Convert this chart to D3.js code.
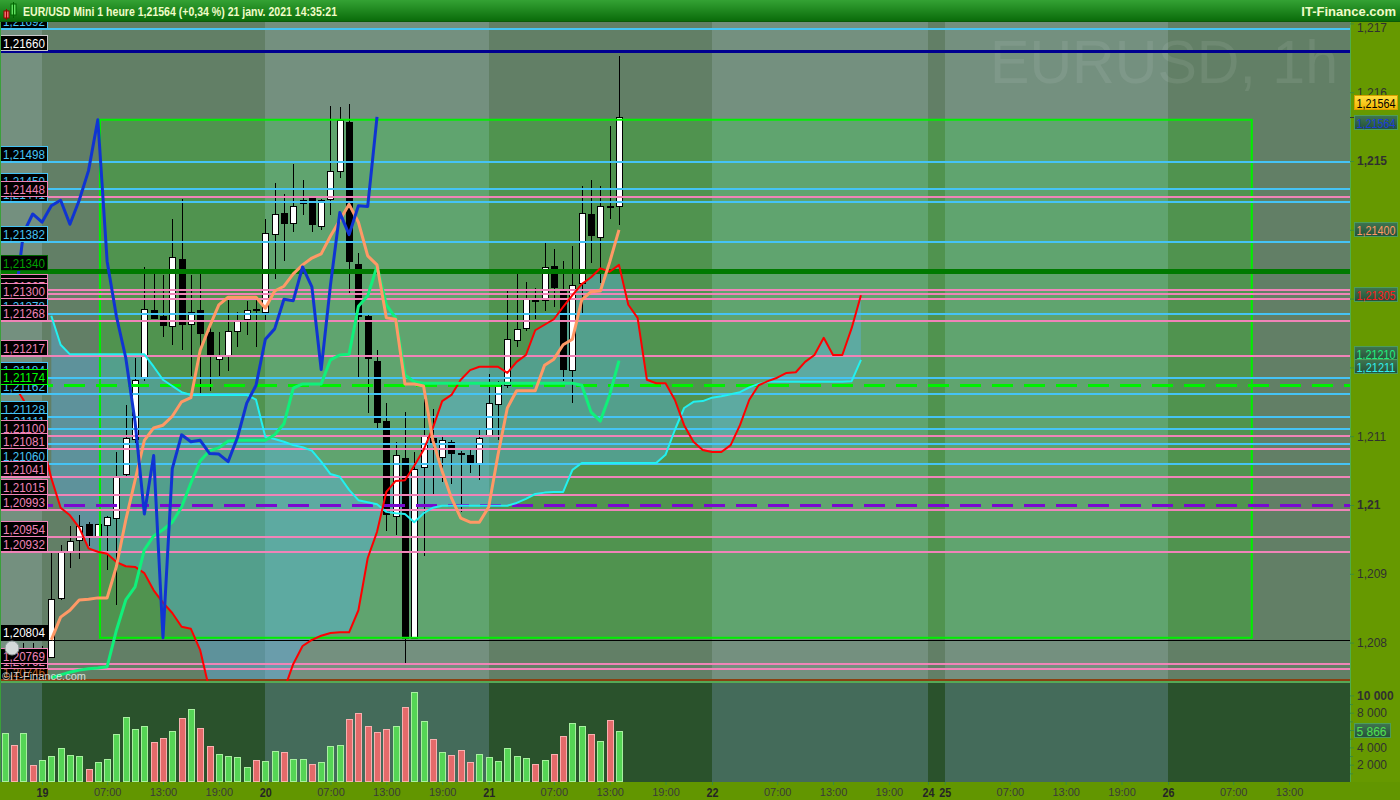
<!DOCTYPE html>
<html>
<head>
<meta charset="utf-8">
<script src="https://cdn.jsdelivr.net/npm/d3@7"></script>
<style>
  body { margin: 0; background: #2d7d2d; }
  svg { display: block; font-family: "Liberation Sans", Arial, sans-serif; }
</style>
</head>
<body>
<svg id="chart" width="1400" height="800"></svg>
<script>
// hourly bars, index 0 = 19 janv. 00:00
const firstBar = -4;
const opens = [1.20745, 1.20775, 1.20755, 1.20790, 1.20770,
  1.20779, 1.20865, 1.20934, 1.20950, 1.20973, 1.20955, 1.20971, 1.20982, 1.21044, 1.21095,
  1.21184, 1.21284, 1.21275, 1.21261, 1.21357, 1.21264, 1.21283, 1.21252, 1.21212, 1.21218,
  1.21253, 1.21270, 1.21285, 1.21280, 1.21394, 1.21425, 1.21410, 1.21438, 1.21446, 1.21405,
  1.21446, 1.21486, 1.21556, 1.21350, 1.21275, 1.21209, 1.21122, 1.20984, 1.21069, 1.20807,
  1.21055, 1.21098, 1.21070, 1.21091, 1.21075, 1.21073, 1.21060, 1.21101, 1.21147, 1.21174,
  1.21240, 1.21257, 1.21298, 1.21298, 1.21348, 1.21311, 1.21197, 1.21323, 1.21423, 1.21390,
  1.21435, 1.21434];
const highs = [1.20790, 1.20795, 1.20800, 1.20800, 1.20795,
  1.20930, 1.20942, 1.20970, 1.20986, 1.20976, 1.20973, 1.20984, 1.21077, 1.21145, 1.21214,
  1.21346, 1.21336, 1.21335, 1.21416, 1.21445, 1.21335, 1.21338, 1.21263, 1.21251, 1.21299,
  1.21280, 1.21296, 1.21304, 1.21416, 1.21468, 1.21452, 1.21496, 1.21472, 1.21448, 1.21445,
  1.21580, 1.21578, 1.21583, 1.21367, 1.21278, 1.21226, 1.21148, 1.21091, 1.21135, 1.21077,
  1.21154, 1.21139, 1.21101, 1.21095, 1.21078, 1.21081, 1.21110, 1.21190, 1.21180, 1.21311,
  1.21340, 1.21324, 1.21316, 1.21382, 1.21372, 1.21355, 1.21376, 1.21463, 1.21472, 1.21464,
  1.21551, 1.21652];
const lows = [1.20730, 1.20740, 1.20745, 1.20760, 1.20755,
  1.20777, 1.20862, 1.20908, 1.20922, 1.20941, 1.20953, 1.20906, 1.20855, 1.21039, 1.21087,
  1.21180, 1.21271, 1.21244, 1.21233, 1.21225, 1.21188, 1.21158, 1.21166, 1.21187, 1.21195,
  1.21230, 1.21247, 1.21230, 1.21269, 1.21329, 1.21354, 1.21397, 1.21422, 1.21397, 1.21400,
  1.21422, 1.21476, 1.21307, 1.21184, 1.21133, 1.21110, 1.20962, 1.20957, 1.20769, 1.20805,
  1.20926, 1.21014, 1.21034, 1.21031, 1.20990, 1.21046, 1.21037, 1.21100, 1.21095, 1.21170,
  1.21229, 1.21253, 1.21270, 1.21282, 1.21288, 1.21180, 1.21148, 1.21276, 1.21352, 1.21323,
  1.21415, 1.21407];
const closes = [1.20775, 1.20755, 1.20790, 1.20770, 1.20779,
  1.20863, 1.20932, 1.20948, 1.20970, 1.20957, 1.20972, 1.20982, 1.21041, 1.21097, 1.21181,
  1.21285, 1.21273, 1.21262, 1.21361, 1.21263, 1.21281, 1.21250, 1.21217, 1.21218, 1.21253,
  1.21268, 1.21283, 1.21284, 1.21395, 1.21423, 1.21411, 1.21435, 1.21443, 1.21408, 1.21443,
  1.21486, 1.21560, 1.21354, 1.21274, 1.21214, 1.21121, 1.20987, 1.21072, 1.20807, 1.21053,
  1.21102, 1.21092, 1.21094, 1.21075, 1.21074, 1.21063, 1.21098, 1.21148, 1.21174, 1.21241,
  1.21256, 1.21299, 1.21297, 1.21346, 1.21317, 1.21197, 1.21320, 1.21425, 1.21393, 1.21435,
  1.21434, 1.21564];
const volumes = [5660, 4270, 5660, 1925, 2540, 3000, 3930, 3120, 3000, 1500,
  2310, 2660, 5540, 7510, 6120, 6470, 4620, 5080, 5890, 7390,
  8430, 6240, 4160, 3230, 3000, 2890, 1730, 2540, 2430, 3580,
  3470, 2660, 2660, 2080, 2310, 4160, 4270, 7280, 7970, 6470,
  5780, 6120, 6470, 8660, 10400, 7050, 4970, 3470, 3120, 3700,
  2310, 3230, 2890, 2430, 3930, 3000, 2770, 2080, 2540, 3230,
  5310, 6810, 6470, 5540, 4740, 7160, 5866];

// Ichimoku lines
const tenkanStart = 1;
const tenkan = [1.20804, 1.20837, 1.20847, 1.20862, 1.20863, 1.20865, 1.20865, 1.20911, 1.20978, 1.21036,
  1.21094, 1.21112, 1.21116, 1.21129, 1.21150, 1.21156, 1.21225, 1.21259, 1.21291, 1.21302,
  1.21302, 1.21302, 1.21302, 1.21286, 1.21311, 1.21318, 1.21336, 1.21349, 1.21359, 1.21365,
  1.21391, 1.21414, 1.21437, 1.21411, 1.21362, 1.21349, 1.21272, 1.21270, 1.21176, 1.21176,
  1.21173, 1.21094, 1.21049, 1.21010, 1.20981, 1.20975, 1.20975, 1.20997, 1.21073, 1.21141,
  1.21166, 1.21166, 1.21166, 1.21203, 1.21212, 1.21233, 1.21241, 1.21298, 1.21310, 1.21311,
  1.21353, 1.21400];
const kijunStart = 1;
const kijun = [1.20749, 1.20753, 1.20757, 1.20760, 1.20762, 1.20763, 1.20765, 1.20818, 1.20862, 1.20881,
  1.20935, 1.20955, 1.20964, 1.20975, 1.20997, 1.21032, 1.21064, 1.21079, 1.21083, 1.21093,
  1.21094, 1.21094, 1.21094, 1.21094, 1.21102, 1.21118, 1.21170, 1.21176, 1.21176, 1.21176,
  1.21211, 1.21218, 1.21219, 1.21289, 1.21304, 1.21347, 1.21291, 1.21272, 1.21189, 1.21179,
  1.21177, 1.21177, 1.21177, 1.21177, 1.21177, 1.21177, 1.21177, 1.21177, 1.21177, 1.21177,
  1.21177, 1.21177, 1.21177, 1.21177, 1.21177, 1.21177, 1.21177, 1.21174, 1.21135, 1.21122,
  1.21160, 1.21210];
const senkouAStart = -4;
const senkouA = [1.21203, 1.21174, 1.21153, 1.21124, 1.21094,
  1.21039, 1.20996, 1.20985, 1.20967, 1.20937, 1.20932, 1.20929, 1.20917, 1.20911, 1.20910,
  1.20901, 1.20876, 1.20858, 1.20843, 1.20823, 1.20820, 1.20789, 1.20731, 1.20709, 1.20695,
  1.20688, 1.20688, 1.20690, 1.20699, 1.20709, 1.20731, 1.20769, 1.20795, 1.20804, 1.20810,
  1.20814, 1.20815, 1.20815, 1.20847, 1.20923, 1.20961, 1.21019, 1.21035, 1.21036, 1.21057,
  1.21080, 1.21112, 1.21151, 1.21160, 1.21182, 1.21196, 1.21201, 1.21201, 1.21201, 1.21192,
  1.21208, 1.21218, 1.21254, 1.21262, 1.21270, 1.21288, 1.21305, 1.21321, 1.21331, 1.21344,
  1.21339, 1.21349, 1.21291, 1.21272, 1.21182, 1.21177, 1.21177, 1.21153, 1.21116, 1.21092,
  1.21080, 1.21077, 1.21077, 1.21087, 1.21116, 1.21153, 1.21174, 1.21180, 1.21185, 1.21192,
  1.21193, 1.21208, 1.21218, 1.21243, 1.21218, 1.21218, 1.21257, 1.21305];
const senkouBStart = 1;
const senkouB = [1.21275, 1.21233, 1.21219, 1.21219, 1.21219, 1.21219, 1.21219, 1.21219, 1.21219, 1.21219,
  1.21219, 1.21201, 1.21182, 1.21173, 1.21164, 1.21160, 1.21160, 1.21160, 1.21160, 1.21160,
  1.21160, 1.21160, 1.21153, 1.21099, 1.21096, 1.21092, 1.21087, 1.21084, 1.21079, 1.21063,
  1.21045, 1.21041, 1.21022, 1.21007, 1.21004, 1.21001, 1.20990, 1.20988, 1.20987, 1.20975,
  1.20988, 1.20996, 1.20999, 1.20999, 1.20999, 1.20999, 1.20999, 1.20999, 1.20999, 1.20999,
  1.21003, 1.21009, 1.21016, 1.21018, 1.21019, 1.21019, 1.21051, 1.21061, 1.21061, 1.21061,
  1.21061, 1.21061, 1.21061, 1.21061, 1.21061, 1.21061, 1.21073, 1.21109, 1.21141, 1.21150,
  1.21151, 1.21156, 1.21158, 1.21161, 1.21164, 1.21171, 1.21176, 1.21179, 1.21179, 1.21179,
  1.21179, 1.21179, 1.21179, 1.21179, 1.21179, 1.21179, 1.21180, 1.21211];
const chikouStart = -4;
const chikou = [1.21283, 1.21284, 1.21395, 1.21423, 1.21411, 1.21435, 1.21443, 1.21408, 1.21443, 1.21486,
  1.21560, 1.21354, 1.21274, 1.21214, 1.21121, 1.20987, 1.21072, 1.20807, 1.21053, 1.21102,
  1.21092, 1.21094, 1.21075, 1.21074, 1.21063, 1.21098, 1.21148, 1.21174, 1.21241, 1.21256,
  1.21299, 1.21297, 1.21346, 1.21317, 1.21197, 1.21320, 1.21425, 1.21393, 1.21435, 1.21434,
  1.21564];

// horizontal levels drawn across the chart
const levelValues = [1.21692, 1.21498, 1.21459, 1.21441, 1.21382, 1.21278, 1.21184, 1.21162, 1.21128, 1.21111, 1.21089, 1.21060,
  1.21660, 1.21448, 1.21340, 1.21313, 1.21307, 1.21300, 1.21268, 1.21217, 1.21174, 1.21100, 1.21081,
  1.21041, 1.21015, 1.21000, 1.20993, 1.20954, 1.20932, 1.20804, 1.20746, 1.20762, 1.20769];
const levelKinds = ['blue', 'blue', 'blue', 'blue', 'blue', 'blue', 'blue', 'blue', 'blue', 'blue', 'blue', 'blue',
  'navy', 'pink', 'green', 'pink', 'pink', 'pink', 'pink', 'pink', 'greenDash', 'pink', 'pink',
  'pink', 'pink', 'purpleDash', 'pink', 'pink', 'pink', 'black', 'brown', 'pink', 'pink'];

// rectangle drawn on the chart (time index / price)
const boxFrom = 6.23, boxTo = 130, boxHigh = 1.2156, boxLow = 1.20807;

const sessionStarts = [0, 24, 48, 72, 95.2, 97, 121];
const timeTickIdx = [0, 7, 13, 19, 24, 31, 37, 43, 48, 55, 61, 67, 72, 79, 85, 91, 95.2, 97, 104, 110, 116, 121, 128, 134];
const timeTickText = ['19', '07:00', '13:00', '19:00', '20', '07:00', '13:00', '19:00', '21', '07:00', '13:00', '19:00',
  '22', '07:00', '13:00', '19:00', '24', '25', '07:00', '13:00', '19:00', '26', '07:00', '13:00'];
const priceTicks = [1.208, 1.209, 1.210, 1.211, 1.212, 1.213, 1.214, 1.215, 1.216, 1.217];
const volumeTicks = [2000, 4000, 6000, 8000, 10000];

const titleText = 'EUR/USD Mini 1 heure 1,21564 (+0,34 %) 21 janv. 2021 14:35:21';

const plotRight = 1350;
const priceTop = 22, priceBottom = 681, volTop = 683, volBottom = 782;

const x = d3.scaleLinear().domain([-4.513, 140.55]).range([0, plotRight]);
const y = d3.scaleLinear().domain([1.208, 1.217]).range([642.6, 23.4]);
const yv = d3.scaleLinear().domain([0, 10000]).range([782, 695.4]);

const fmtPrice = v => v.toFixed(5).replace('.', ',');
const fmtTick = v => (+v.toFixed(3)).toString().replace('.', ',');
const fmtVol = v => d3.format(',')(v).replace(/,/g, ' ');

const levelStyle = {
  blue: { stroke: '#45c3f5', width: 2, text: '#45c3f5', border: '#45c3f5' },
  pink: { stroke: '#f084b8', width: 2, text: '#f084b8', border: '#f084b8' },
  navy: { stroke: '#000090', width: 3, text: '#ffffff', border: '#c8c8c8' },
  green: { stroke: '#007a00', width: 5, text: '#00a000', border: '#006400' },
  greenDash: { stroke: '#00f000', width: 3, dash: '21,11', text: '#00ff00', border: '#00ff00' },
  purpleDash: { stroke: '#7a0ad0', width: 3, dash: '21,11' },
  black: { stroke: '#000000', width: 1, text: '#ffffff', border: null },
  brown: { stroke: '#8a4010', width: 2, text: '#c06020', border: '#8a4010' }
};

const svg = d3.select('#chart');
const defs = svg.append('defs');

defs.append('clipPath').attr('id', 'priceClip')
  .append('rect').attr('x', 0).attr('y', priceTop).attr('width', plotRight).attr('height', priceBottom - priceTop);
defs.append('clipPath').attr('id', 'boxClip')
  .append('rect')
  .attr('x', x(boxFrom)).attr('y', y(boxHigh))
  .attr('width', x(boxTo) - x(boxFrom)).attr('height', y(boxLow) - y(boxHigh));

const hdr = defs.append('linearGradient').attr('id', 'hdrGrad').attr('x1', 0).attr('x2', 0).attr('y1', 0).attr('y2', 1);
hdr.append('stop').attr('offset', '0%').attr('stop-color', '#34a234');
hdr.append('stop').attr('offset', '100%').attr('stop-color', '#0a6c0a');
const tagGrad = defs.append('linearGradient').attr('id', 'tagGrad').attr('x1', 0).attr('x2', 0).attr('y1', 0).attr('y2', 1);
tagGrad.append('stop').attr('offset', '0%').attr('stop-color', '#3f7550');
tagGrad.append('stop').attr('offset', '100%').attr('stop-color', '#24503a');
const lastGrad = defs.append('linearGradient').attr('id', 'lastGrad').attr('x1', 0).attr('x2', 0).attr('y1', 0).attr('y2', 1);
lastGrad.append('stop').attr('offset', '0%').attr('stop-color', '#ffe040');
lastGrad.append('stop').attr('offset', '100%').attr('stop-color', '#f0b400');

function drawBands(g, y0, y1, light, dark) {
  const edges = [x.domain()[0], ...sessionStarts, x.domain()[1]];
  g.selectAll(null)
    .data(d3.pairs(edges))
    .join('rect')
    .attr('x', d => x(d[0]))
    .attr('width', d => x(d[1]) - x(d[0]))
    .attr('y', y0)
    .attr('height', y1 - y0)
    .attr('fill', (d, k) => k % 2 ? dark : light)
    .attr('shape-rendering', 'crispEdges');
}

// ---------- price panel ----------
const price = svg.append('g').attr('clip-path', 'url(#priceClip)');
drawBands(price.append('g'), priceTop, priceBottom, '#74907f', '#627f66');
drawBands(price.append('g').attr('clip-path', 'url(#boxClip)'), priceTop, priceBottom, '#60a46f', '#50934f');

price.append('text')
  .attr('x', 990).attr('y', 83)
  .attr('font-size', 61)
  .attr('textLength', 348)
  .attr('lengthAdjust', 'spacingAndGlyphs')
  .attr('fill', 'rgba(255,255,255,0.08)')
  .text('EURUSD, 1h');

// cloud between the two leading spans
const cloudRows = senkouB.map((b, k) => {
  const i = senkouBStart + k;
  return { i, a: senkouA[i - senkouAStart], b };
});
price.append('path')
  .datum(cloudRows)
  .attr('fill', 'rgba(90,180,250,0.36)')
  .attr('d', d3.area().x(d => x(d.i)).y0(d => y(d.a)).y1(d => y(d.b)));

// candles
const bars = closes.map((c, k) => ({ i: firstBar + k, o: opens[k], h: highs[k], l: lows[k], c, v: volumes[k] }));
const cx = d => Math.round(x(d.i));
const candles = price.append('g').attr('shape-rendering', 'crispEdges');
candles.selectAll('line')
  .data(bars)
  .join('line')
  .attr('x1', d => cx(d) + 0.5).attr('x2', d => cx(d) + 0.5)
  .attr('y1', d => y(d.h)).attr('y2', d => y(d.l))
  .attr('stroke', '#000');
candles.selectAll('rect')
  .data(bars)
  .join('rect')
  .attr('x', d => cx(d) - 2.5)
  .attr('width', 6)
  .attr('y', d => Math.round(y(Math.max(d.o, d.c))) + 0.5)
  .attr('height', d => Math.max(1, Math.round(Math.abs(y(d.o) - y(d.c)))))
  .attr('fill', d => d.c >= d.o ? '#ffffff' : '#000000')
  .attr('stroke', '#000');

// box outline
price.append('rect')
  .attr('x', x(boxFrom)).attr('y', y(boxHigh))
  .attr('width', x(boxTo) - x(boxFrom)).attr('height', y(boxLow) - y(boxHigh))
  .attr('fill', 'none')
  .attr('stroke', '#00f000')
  .attr('stroke-width', 2);

// horizontal levels
const levels = levelValues.map((v, k) => ({ v, kind: levelKinds[k] }));
price.append('g')
  .selectAll('line')
  .data(levels)
  .join('line')
  .attr('x1', 0).attr('x2', plotRight)
  .attr('y1', d => Math.round(y(d.v))).attr('y2', d => Math.round(y(d.v)))
  .attr('stroke', d => levelStyle[d.kind].stroke)
  .attr('stroke-width', d => levelStyle[d.kind].width)
  .attr('stroke-dasharray', d => levelStyle[d.kind].dash || null)
  .attr('shape-rendering', 'crispEdges');

// indicator lines
function series(vals, start) {
  return vals.map((v, k) => ({ i: start + k, v }));
}
const lineGen = d3.line().x(d => x(d.i)).y(d => y(d.v));
const indicators = [
  { data: series(senkouB, senkouBStart), color: '#22f0f0', width: 2 },
  { data: series(senkouA, senkouAStart), color: '#ff0000', width: 2 },
  { data: series(kijun, kijunStart), color: '#10f07a', width: 3 },
  { data: series(tenkan, tenkanStart), color: '#ff9966', width: 3 },
  { data: series(chikou, chikouStart), color: '#1034d2', width: 3 }
];
price.append('g')
  .selectAll('path')
  .data(indicators)
  .join('path')
  .attr('fill', 'none')
  .attr('stroke', d => d.color)
  .attr('stroke-width', d => d.width)
  .attr('stroke-linejoin', 'round')
  .attr('d', d => lineGen(d.data));

// level labels on the left (blue ones underneath)
const labelled = levels.filter(d => levelStyle[d.kind].text);
const labelOrder = labelled.filter(d => d.kind === 'blue').concat(labelled.filter(d => d.kind !== 'blue'));
const tagsLeft = price.append('g')
  .selectAll('g')
  .data(labelOrder)
  .join('g')
  .attr('transform', d => `translate(0,${Math.round(y(d.v))})`);
tagsLeft.append('rect')
  .attr('x', 0.5).attr('y', -15.5)
  .attr('width', 47).attr('height', 15)
  .attr('fill', '#000')
  .attr('stroke', d => levelStyle[d.kind].border || 'none')
  .attr('shape-rendering', 'crispEdges');
tagsLeft.append('text')
  .attr('x', 3).attr('y', -3.5)
  .attr('font-size', 13)
  .attr('textLength', 42)
  .attr('lengthAdjust', 'spacingAndGlyphs')
  .attr('fill', d => levelStyle[d.kind].text)
  .text(d => fmtPrice(d.v));

// copyright mark
price.append('circle').attr('cx', 12).attr('cy', 648).attr('r', 7)
  .attr('fill', '#d4dada').attr('stroke', '#8a9898');
price.append('text')
  .attr('x', 2).attr('y', 680)
  .attr('font-size', 11)
  .attr('fill', 'rgba(235,240,240,0.85)')
  .text('\u00a9IT-Finance.com');

// ---------- volume panel ----------
svg.append('rect').attr('x', 0).attr('y', 681).attr('width', plotRight).attr('height', 2).attr('fill', '#56a856');
const vol = svg.append('g');
drawBands(vol.append('g'), volTop, volBottom, '#446b5a', '#2a522c');
vol.append('g')
  .selectAll('rect')
  .data(bars)
  .join('rect')
  .attr('x', d => cx(d) - 3 + 0.5)
  .attr('width', 6)
  .attr('y', d => Math.round(yv(d.v)) + 0.5)
  .attr('height', d => volBottom - Math.round(yv(d.v)) - 1)
  .attr('fill', d => d.c >= d.o ? '#55d455' : '#e46a6a')
  .attr('stroke', d => d.c >= d.o ? '#a8f0a0' : '#f8b0b0')
  .attr('shape-rendering', 'crispEdges');

// ---------- right scale ----------
svg.append('rect').attr('x', plotRight).attr('y', priceTop).attr('width', 50).attr('height', volBottom - priceTop).attr('fill', '#669900');
svg.append('line').attr('x1', plotRight + 0.5).attr('x2', plotRight + 0.5).attr('y1', priceTop).attr('y2', volBottom)
  .attr('stroke', '#4fae4f');

const lastClose = closes[closes.length - 1];
const lastVol = volumes[volumes.length - 1];
const rightTags = [
  { v: lastClose, dy: -14, color: '#000000', fill: 'url(#lastGrad)', border: '#d8a000' },
  { v: chikou[chikou.length - 1], dy: 6, color: '#1a3cd8' },
  { v: tenkan[tenkan.length - 1], dy: 0, color: '#ff9966' },
  { v: senkouA[senkouA.length - 1], dy: 0, color: '#ff1a1a' },
  { v: kijun[kijun.length - 1], dy: -7, color: '#20f080' },
  { v: senkouB[senkouB.length - 1], dy: 7, color: '#30eef0' }
];
const tagY = rightTags.map(d => Math.round(y(d.v) + d.dy));

// tick labels hidden under a value tag are left out, as in the original
const coveredTick = v => v !== 1.216 && tagY.some(t => Math.abs(t - y(v)) < 9);

const pAxis = svg.append('g')
  .attr('transform', `translate(${plotRight},0)`)
  .call(d3.axisRight(y).tickValues(priceTicks).tickSize(4).tickFormat(v => coveredTick(v) ? '' : fmtTick(v)));
const vAxis = svg.append('g')
  .attr('transform', `translate(${plotRight},0)`)
  .call(d3.axisRight(yv).tickValues(volumeTicks).tickSize(4)
    .tickFormat(v => Math.abs(yv(v) - yv(lastVol)) < 10 ? '' : fmtVol(v)));
svg.append('g')
  .attr('transform', `translate(${plotRight},0)`)
  .call(d3.axisRight(yv).tickValues(d3.range(1000, 11000, 2000)).tickSize(3).tickFormat(''))
  .call(g => g.select('.domain').remove())
  .selectAll('line').attr('stroke', '#3c8c3c');
[pAxis, vAxis].forEach(g => {
  g.select('.domain').remove();
  g.selectAll('line').attr('stroke', '#3c8c3c');
  g.selectAll('text')
    .attr('font-size', 12)
    .attr('font-family', '"Liberation Sans", Arial, sans-serif')
    .attr('fill', '#303030');
});
pAxis.selectAll('text')
  .attr('font-weight', d => Math.abs(d * 200 - Math.round(d * 200)) < 1e-6 ? 'bold' : null)
  .attr('y', d => Math.max(0, 28 - y(d)));
vAxis.selectAll('text').attr('font-weight', d => d === 10000 ? 'bold' : null);

// value tags on the right
svg.append('line')
  .attr('x1', plotRight).attr('x2', plotRight + 6)
  .attr('y1', Math.round(y(lastClose)) + 0.5).attr('y2', Math.round(y(lastClose)) + 0.5)
  .attr('stroke', '#333');
const tagG = svg.append('g')
  .selectAll('g')
  .data(rightTags)
  .join('g')
  .attr('transform', (d, k) => `translate(${plotRight + 5},${tagY[k]})`);
tagG.append('rect')
  .attr('x', -0.5).attr('y', -7.5)
  .attr('width', 43).attr('height', 14)
  .attr('fill', d => d.fill || 'url(#tagGrad)')
  .attr('stroke', d => d.border || '#4c9c5c')
  .attr('shape-rendering', 'crispEdges');
tagG.append('text')
  .attr('x', 1.5).attr('y', 4.5)
  .attr('font-size', 12)
  .attr('textLength', 39)
  .attr('lengthAdjust', 'spacingAndGlyphs')
  .attr('fill', d => d.color)
  .text(d => fmtPrice(d.v));

const vTag = svg.append('g').attr('transform', `translate(${plotRight + 5},${Math.round(yv(lastVol))})`);
vTag.append('rect')
  .attr('x', -0.5).attr('y', -7.5).attr('width', 36).attr('height', 14)
  .attr('fill', 'url(#tagGrad)').attr('stroke', '#4c9c5c')
  .attr('shape-rendering', 'crispEdges');
vTag.append('text')
  .attr('x', 1.5).attr('y', 4.5)
  .attr('font-size', 12)
  .attr('fill', '#50e050')
  .text(fmtVol(lastVol));

// ---------- time axis ----------
svg.append('rect').attr('x', 0).attr('y', volBottom).attr('width', 1400).attr('height', 800 - volBottom).attr('fill', '#629600');
const tAxis = svg.append('g')
  .attr('transform', `translate(0,${volBottom})`)
  .call(d3.axisBottom(x).tickValues(timeTickIdx).tickSize(3).tickFormat((d, k) => timeTickText[k]));
tAxis.select('.domain').remove();
tAxis.selectAll('line').attr('stroke', '#3c8c3c');
const isHour = (d, k) => timeTickText[k].includes(':');
tAxis.selectAll('text')
  .attr('font-size', (d, k) => isHour(d, k) ? 11 : 12)
  .attr('font-weight', (d, k) => isHour(d, k) ? null : 'bold')
  .attr('textLength', (d, k) => isHour(d, k) ? null : 12)
  .attr('lengthAdjust', 'spacingAndGlyphs')
  .attr('font-family', '"Liberation Sans", Arial, sans-serif')
  .attr('fill', (d, k) => isHour(d, k) ? '#3a3a3a' : '#262626');

// ---------- header ----------
svg.append('rect').attr('x', 0).attr('y', 0).attr('width', 1400).attr('height', 21).attr('fill', 'url(#hdrGrad)');
svg.append('rect').attr('x', 0).attr('y', 21).attr('width', 1400).attr('height', 1).attr('fill', '#0a5a0a');
svg.append('rect').attr('x', 4).attr('y', 11).attr('width', 5).attr('height', 7).attr('fill', '#f07070').attr('stroke', '#900');
svg.append('line').attr('x1', 6.5).attr('x2', 6.5).attr('y1', 9).attr('y2', 20).attr('stroke', '#900');
svg.append('rect').attr('x', 11).attr('y', 4).attr('width', 5).attr('height', 11).attr('fill', '#60e060').attr('stroke', '#060');
svg.append('line').attr('x1', 13.5).attr('x2', 13.5).attr('y1', 2).attr('y2', 18).attr('stroke', '#060');
svg.append('text')
  .attr('x', 23).attr('y', 16)
  .attr('font-size', 13)
  .attr('font-weight', 'bold')
  .attr('textLength', 314)
  .attr('lengthAdjust', 'spacingAndGlyphs')
  .attr('fill', '#f0fcc8')
  .text(titleText);
svg.append('text')
  .attr('x', 1396).attr('y', 16)
  .attr('text-anchor', 'end')
  .attr('font-size', 13)
  .attr('font-weight', 'bold')
  .attr('fill', '#f0fcc8')
  .text('IT-Finance.com');
svg.append('rect').attr('x', 0).attr('y', 22).attr('width', 1).attr('height', 760).attr('fill', '#3aa03a');
</script>
</body>
</html>
